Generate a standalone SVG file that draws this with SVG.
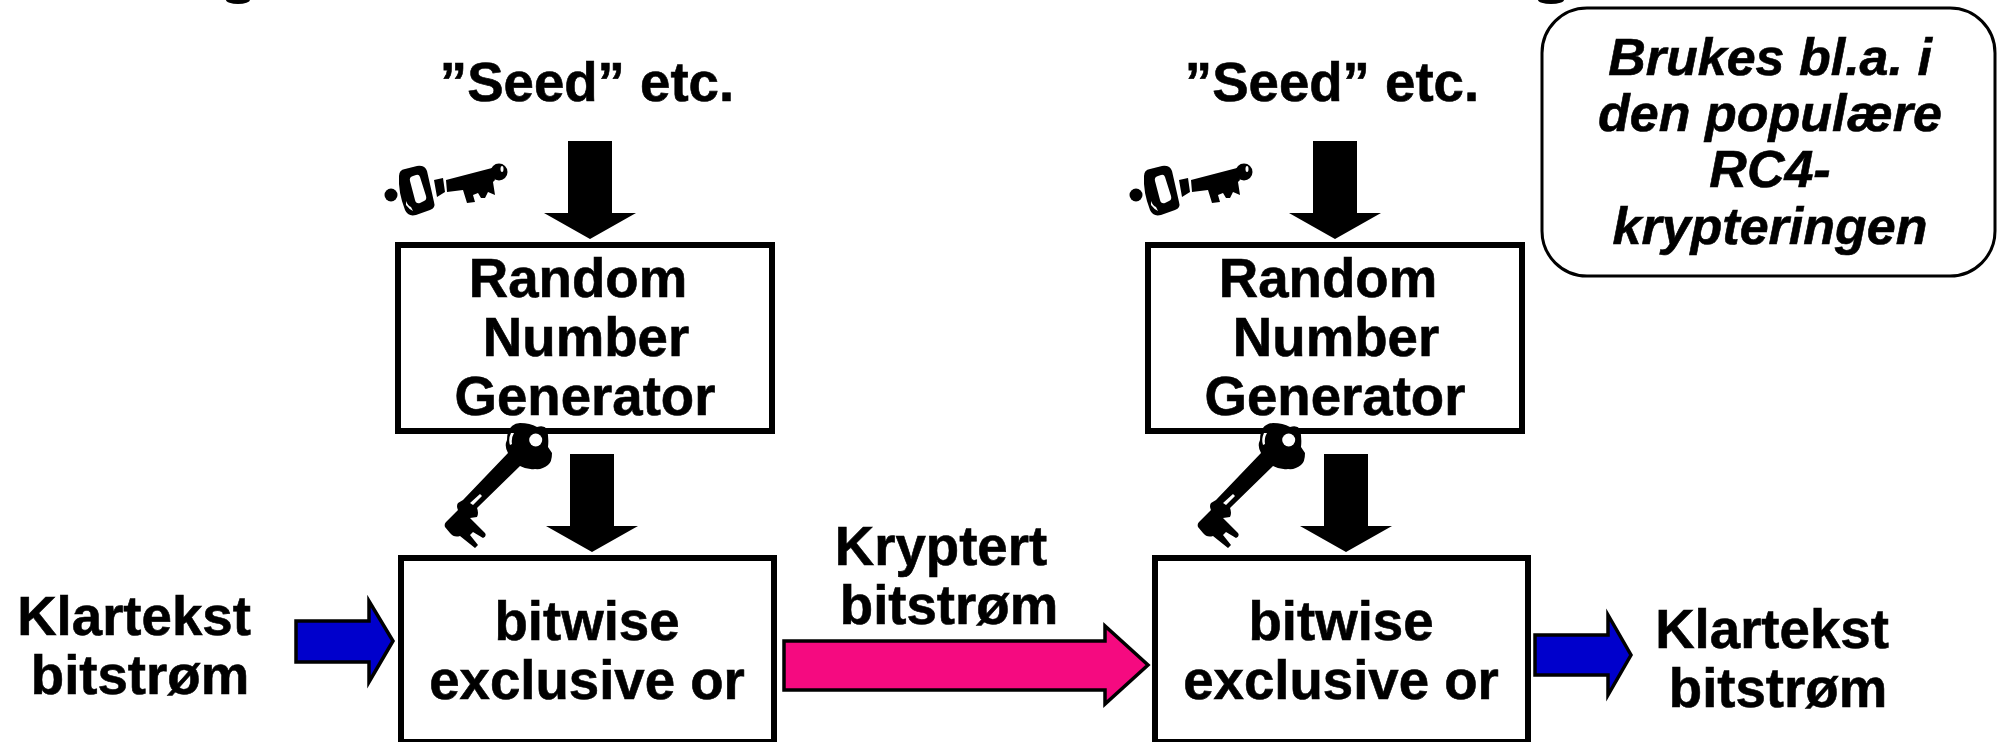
<svg xmlns="http://www.w3.org/2000/svg" width="1997" height="742" viewBox="0 0 1997 742">
<defs>
<style>
text{font-family:"Liberation Sans",Arial,sans-serif;font-weight:700;fill:#000;stroke:#000;stroke-width:.6;font-size:54.6px;text-anchor:middle}
.box{fill:#fff;stroke:#000;stroke-width:6}
.blk{fill:#000}
.blue{fill:#0000cc;stroke:#000;stroke-width:3.5}
.pink{fill:#f50a80;stroke:#000;stroke-width:3.5}
.it{font-style:italic;font-size:52px}
</style>
<g id="smallkey">
<circle class="blk" cx="391" cy="195" r="6.5"/>
<path class="blk" fill-rule="evenodd" d="M399 176 Q399 170 405 169 L417 166 Q425 165 427 171 L434 202 Q436 208 430 210 L416 215 Q408 217 405 210 Q398 192 399 176Z M410 181 L415 200 Q416 204 420 203 L424 201 Q427 200 426 196 L420 177 Q419 174 416 175 L413 176 Q409 177 410 181Z"/>
<path class="blk" d="M434 180 L443 178 L445 192 L437 197Z M446 180 L492 168 L495 180 L493 182 L495 195 L488 192 L485 198 L481 198 L478 193 L473 195 L475 202 L467 203 L463 190 L447 192Z"/>
<circle class="blk" cx="499" cy="172" r="8.5"/>
<ellipse cx="502" cy="169" rx="1.5" ry="3" fill="#fff"/>
<path d="M406 205 Q409 209 413 211 L411 207 Q408 206 406 201Z" fill="#fff"/>
</g>
<g id="bigkey">
<path class="blk" d="M508 453 Q504 446 507 440 Q507 424 520 423 Q530 423 537 427 Q544 425 547 429 Q549 438 548 447 L552 453 Q552 462 548 465 Q542 470 535 469 Q527 470 520 466 L477 508 Q479 513 477 517 L470 518 L485 533 Q487 536 483 538 L473 532 L470 535 L478 545 L475 548 L460 536 Q454 538 450 533 L445 527 Q444 524 446 522 L458 510 Q456 506 458 503 L463 500Z"/>
<circle cx="535.7" cy="440" r="6.5" fill="#fff"/>
<path d="M511 433 Q508 439 510 445 L512 444 Q511 438 514 433Z M470 503 L480 494 L482 496 L473 505Z" fill="#fff"/>
</g>
<polygon id="downarrow" class="blk" points="-22,0 22,0 22,72 46,72 0,98 -46,72 -22,72"/>
</defs>
<g id="connectors">
<use href="#downarrow" x="590" y="141"/>
<use href="#downarrow" x="1335" y="141"/>
<use href="#downarrow" x="592" y="454"/>
<use href="#downarrow" x="1346" y="454"/>
<polygon class="blue" points="296,621 369,621 369,601 393,641 369,682 369,662 296,662"/>
<polygon class="pink" points="784,641 1105,641 1105,626 1148,665 1105,704 1105,690 784,690"/>
<polygon class="blue" points="1535,635 1608,635 1608,615 1631,655 1608,695 1608,675 1535,675"/>
</g>
<g id="seed1"><text x="587" y="101">”Seed” etc.</text></g>
<g id="seed2"><text x="1332" y="101">”Seed” etc.</text></g>
<g id="key1"><use href="#smallkey"/></g>
<g id="key2"><use href="#smallkey" x="745"/></g>
<g id="rng1"><rect class="box" x="398" y="245" width="374" height="186"/>
<text x="578" y="297">Random</text><text x="586" y="356">Number</text><text x="585" y="415">Generator</text></g>
<g id="rng2"><rect class="box" x="1148" y="245" width="374" height="186"/>
<text x="1328" y="297">Random</text><text x="1336" y="356">Number</text><text x="1335" y="415">Generator</text></g>
<g id="xor1"><rect class="box" x="401" y="558" width="373" height="184"/>
<text x="587" y="640">bitwise</text><text x="587" y="699">exclusive or</text></g>
<g id="xor2"><rect class="box" x="1155" y="558" width="373" height="184"/>
<text x="1341" y="640">bitwise</text><text x="1341" y="699">exclusive or</text></g>
<g id="bigkey1"><use href="#bigkey"/></g>
<g id="bigkey2"><use href="#bigkey" x="753"/></g>
<g id="plain1"><text x="134" y="635">Klartekst</text><text x="140" y="694">bitstrøm</text></g>
<g id="plain2"><text x="1772" y="648">Klartekst</text><text x="1778" y="707">bitstrøm</text></g>
<g id="cipher"><text x="941" y="565">Kryptert</text><text x="949" y="624">bitstrøm</text></g>
<g id="note"><rect x="1542" y="8" width="453" height="268" rx="45" fill="#fff" stroke="#000" stroke-width="3"/>
<text class="it" x="1770" y="75">Brukes bl.a. i</text><text class="it" x="1770" y="131">den populære</text><text class="it" x="1770" y="187">RC4-</text><text class="it" x="1770" y="244">krypteringen</text></g>
<ellipse cx="238" cy="0" rx="12" ry="4" class="blk"/>
<ellipse cx="1551" cy="0" rx="13" ry="4" class="blk"/>
</svg>
